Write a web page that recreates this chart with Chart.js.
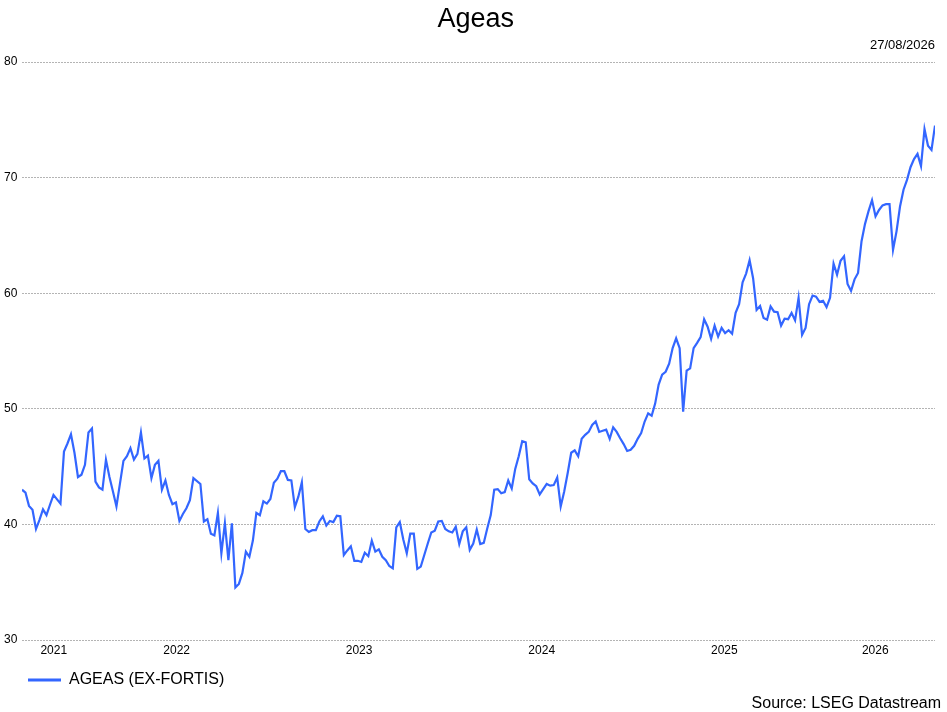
<!DOCTYPE html>
<html lang="en">
<head>
  <meta charset="UTF-8" />
  <title>Ageas</title>
  <script src="https://cdn.jsdelivr.net/npm/chart.js"></script>
  <style>
    html, body {
      margin: 0;
      padding: 0;
      background: #fff;
    }

    .wrap {
      width: 947px;
      height: 712px;
      position: relative;
    }
  </style>
</head>
<body>
  <div class="wrap"><canvas id="ageasChart"></canvas></div>

  <script>
    const seriesName = 'AGEAS (EX-FORTIS)';
    const firstDate = '2021-08-27';   // first weekly observation
    const lastDate = '27/08/2026';    // shown top right
    const sourceText = 'Source: LSEG Datastream';

    // weeks after firstDate
    const weekNo = [
      0, 1, 2, 3, 4, 5, 6, 7, 8, 9, 11, 12, 13, 14, 15, 16, 17, 18, 19, 20,
      21, 22, 23, 24, 25, 26, 27, 29, 30, 31, 32, 33, 34, 35, 36, 37, 38, 39, 40, 41,
      42, 43, 44, 45, 46, 47, 48, 49, 51, 52, 53, 54, 55, 56, 57, 58, 59, 60, 61, 62,
      63, 64, 65, 66, 67, 68, 69, 70, 71, 72, 73, 74, 75, 76, 77, 78, 79, 80, 81, 82,
      83, 84, 85, 86, 87, 88, 89, 90, 91, 92, 93, 94, 95, 96, 97, 98, 99, 100, 101, 102,
      103, 104, 105, 106, 107, 108, 109, 110, 111, 112, 113, 114, 115, 116, 117, 118, 119, 120, 121, 122,
      123, 124, 125, 126, 127, 128, 129, 130, 131, 132, 133, 134, 135, 136, 137, 138, 139, 140, 141, 142,
      143, 144, 145, 146, 147, 148, 149, 150, 151, 152, 153, 154, 155, 156, 157, 158, 159, 160, 161, 162,
      163, 164, 165, 166, 167, 168, 169, 170, 171, 172, 173, 174, 175, 176, 177, 178, 179, 180, 181, 182,
      183, 184, 185, 186, 187, 188, 189, 190, 191, 192, 193, 194, 195, 196, 197, 198, 199, 200, 201, 202,
      203, 204, 205, 206, 207, 208, 209, 210, 211, 212, 213, 214, 215, 216, 217, 218, 219, 220, 221, 222,
      223, 224, 225, 226, 227, 228, 229, 230, 231, 232, 233, 234, 235, 236, 237, 238, 239, 240, 241, 242,
      243, 244, 245, 246, 247, 248, 249, 250, 251, 252, 253, 254, 255, 256, 257, 258, 259, 260, 261
    ];

    const price = [
      43.0, 42.75, 41.6, 41.26, 39.6, 40.4, 41.3, 40.8, 41.7, 42.55, 41.8, 46.3, 47.0, 47.8, 46.2, 44.1, 44.3, 45.15, 47.95, 48.3,
      43.7, 43.2, 43.0, 45.6, 44.1, 42.85, 41.55, 45.5, 45.9, 46.6, 45.6, 46.1, 47.95, 45.7, 45.95, 44.0, 45.15, 45.5, 43.0, 43.8,
      42.55, 41.75, 41.9, 40.3, 40.9, 41.4, 42.1, 44.0, 43.5, 40.25, 40.45, 39.2, 39.05, 41.0, 37.5, 40.1, 36.9, 40.1, 34.55, 34.85,
      35.8, 37.65, 37.2, 38.6, 41.0, 40.8, 42.0, 41.8, 42.2, 43.6, 43.95, 44.6, 44.6, 43.85, 43.8, 41.5, 42.4, 43.65, 39.6, 39.35,
      39.5, 39.5, 40.25, 40.7, 39.9, 40.3, 40.2, 40.75, 40.7, 37.35, 37.75, 38.1, 36.85, 36.85, 36.75, 37.55, 37.25, 38.6, 37.65, 37.85,
      37.2, 36.9, 36.4, 36.2, 39.75, 40.2, 38.7, 37.5, 39.2, 39.2, 36.15, 36.35, 37.35, 38.35, 39.3, 39.45, 40.25, 40.3, 39.6, 39.4,
      39.3, 39.8, 38.3, 39.4, 39.75, 37.8, 38.35, 39.55, 38.3, 38.4, 39.65, 40.8, 43.0, 43.05, 42.7, 42.8, 43.8, 43.1, 44.8, 45.9,
      47.2, 47.1, 43.9, 43.55, 43.3, 42.6, 43.05, 43.5, 43.35, 43.4, 44.05, 41.55, 42.85, 44.45, 46.2, 46.4, 45.9, 47.4, 47.75, 48.0,
      48.6, 48.9, 48.0, 48.1, 48.2, 47.4, 48.4, 48.0, 47.45, 46.95, 46.35, 46.45, 46.8, 47.4, 47.9, 48.9, 49.6, 49.4, 50.45, 52.1,
      52.95, 53.2, 53.9, 55.25, 56.1, 55.25, 49.75, 53.3, 53.5, 55.25, 55.7, 56.2, 57.75, 57.1, 56.05, 57.2, 56.25, 57.0, 56.55, 56.8,
      56.5, 58.3, 59.05, 60.95, 61.7, 62.85, 61.3, 58.55, 58.9, 57.85, 57.7, 58.85, 58.4, 58.35, 57.2, 57.8, 57.75, 58.3, 57.65, 59.6,
      56.4, 57.0, 59.05, 59.8, 59.7, 59.25, 59.35, 58.8, 59.6, 62.55, 61.6, 62.8, 63.2, 60.8, 60.2, 61.2, 61.75, 64.5, 66.0, 67.1,
      68.05, 66.65, 67.2, 67.6, 67.7, 67.7, 63.75, 65.35, 67.5, 68.95, 69.8, 70.9, 71.6, 72.05, 71.0, 74.2, 72.75, 72.4, 74.5
    ];

    const yearLabels = ['2021', '2022', '2023', '2024', '2025', '2026'];
    const yMin = 30;
    const yMax = 80;
    const yStep = 10;

    const lineColour = '#3366ff';
    const fontStack = '"Liberation Sans", Arial, sans-serif';
    const WEEK_MS = 7 * 24 * 3600 * 1000;
    const startMs = Date.parse(firstDate + 'T00:00:00Z');
    const xMax = weekNo[weekNo.length - 1];

    // year labels sit in the middle of the visible part of each year
    const yearTicks = yearLabels.map(y => {
      const from = Math.max(0, (Date.UTC(+y, 0, 1) - startMs) / WEEK_MS);
      const to = Math.min(xMax, (Date.UTC(+y + 1, 0, 1) - startMs) / WEEK_MS);
      return { value: (from + to) / 2, label: y };
    });

    const points = weekNo.map((w, i) => ({ x: w, y: price[i] }));

    Chart.defaults.font.family = fontStack;
    Chart.defaults.color = '#000';

    const sourceNote = {
      id: 'sourceNote',
      afterDraw(chart) {
        const ctx = chart.ctx;
        ctx.save();
        ctx.font = '16px ' + fontStack;
        ctx.fillStyle = '#000';
        ctx.textAlign = 'right';
        ctx.textBaseline = 'middle';
        ctx.fillText(sourceText, chart.width - 6, 704);
        ctx.restore();
      }
    };

    new Chart(document.getElementById('ageasChart'), {
      type: 'line',
      data: {
        datasets: [{
          label: seriesName,
          data: points,
          borderColor: lineColour,
          backgroundColor: lineColour,
          borderWidth: 2.2,
          pointRadius: 0,
          tension: 0,
          fill: false
        }]
      },
      options: {
        responsive: true,
        maintainAspectRatio: false,
        animation: false,
        layout: {
          padding: { left: 16.4, right: 12, top: 0, bottom: 14 }
        },
        plugins: {
          title: {
            display: true,
            text: 'Ageas',
            font: { size: 27, weight: 'normal' },
            padding: { top: 3.4, bottom: 0 }
          },
          subtitle: {
            display: true,
            text: lastDate,
            align: 'end',
            font: { size: 13 },
            padding: { top: 1.6, bottom: 9 }
          },
          legend: {
            position: 'bottom',
            align: 'start',
            labels: {
              boxWidth: 33,
              boxHeight: 3,
              padding: 11.6,
              font: { size: 16 },
              generateLabels(chart) {
                return Chart.defaults.plugins.legend.labels.generateLabels(chart)
                  .map(l => ({ ...l, lineWidth: 0, fillStyle: lineColour }));
              }
            }
          },
          tooltip: { enabled: false }
        },
        scales: {
          x: {
            type: 'linear',
            min: 0,
            max: xMax,
            border: { display: false },
            grid: { display: false, drawTicks: false },
            afterBuildTicks: axis => {
              axis.ticks = yearTicks.map(t => ({ value: t.value }));
            },
            ticks: {
              autoSkip: false,
              maxRotation: 0,
              padding: 3,
              font: { size: 12 },
              callback: (value) => {
                const t = yearTicks.find(t => Math.abs(t.value - value) < 0.01);
                return t ? t.label : '';
              }
            }
          },
          y: {
            min: yMin,
            max: yMax,
            border: { display: false, dash: [2, 1] },
            afterFit: axis => { axis.width = 5.6; },
            grid: {
              color: '#b4b4b4',
              drawTicks: false,
              lineWidth: 1
            },
            ticks: {
              stepSize: yStep,
              // mirrored labels are not clipped to the narrow axis box;
              // the negative padding pulls them back to the left edge
              mirror: true,
              padding: -18,
              font: { size: 12 }
            }
          }
        }
      },
      plugins: [sourceNote]
    });
  </script>
</body>
</html>
